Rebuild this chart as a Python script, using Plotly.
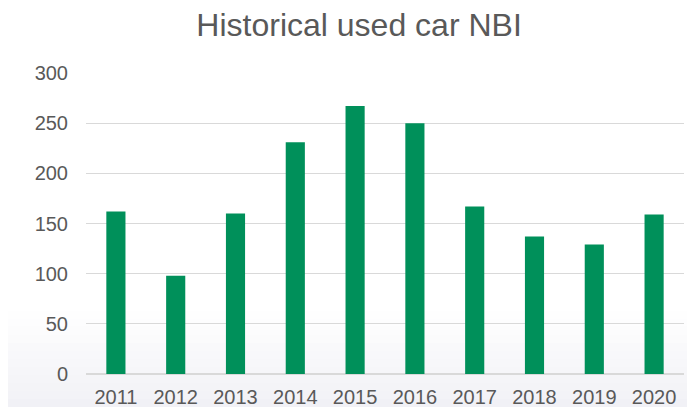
import plotly.graph_objs as go

years = ["2011", "2012", "2013", "2014", "2015", "2016", "2017", "2018", "2019", "2020"]
nbi = [162, 98, 160, 231, 267, 250, 167, 137, 129, 159]
y_ticks = [0, 50, 100, 150, 200, 250, 300]

bar_color = "#00905a"
text_color = "#595959"
grid_color = "#d9d9d9"

fig = go.Figure(go.Bar(
    x=years,
    y=nbi,
    marker=dict(color=bar_color, line=dict(width=0)),
))

# soft grey fade toward the bottom of the card
shapes = []
steps = 12
for i in range(steps):
    y0 = 0.32 * i / steps
    y1 = 0.32 * (i + 1) / steps
    shapes.append(dict(
        type="rect", xref="paper", yref="paper",
        x0=-0.2, x1=1.1, y0=y0 - 0.11, y1=y1 - 0.11,
        fillcolor="rgba(225,225,235,%.3f)" % (0.45 * (1 - i / steps)),
        line=dict(width=0), layer="below",
    ))

# the page body adds an 8px margin, so the figure is sized to fit the window
fig.update_layout(
    width=687,
    height=401,
    title=dict(
        text="Historical used car NBI",
        x=0.511, xanchor="center",
        y=0.957, yanchor="middle",
        font=dict(family="Liberation Sans, Arial", size=32, color=text_color),
    ),
    font=dict(family="Liberation Sans, Arial", size=20, color=text_color),
    paper_bgcolor="white",
    plot_bgcolor="rgba(0,0,0,0)",
    margin=dict(l=78, r=11, t=65, b=35, pad=0),
    bargap=0.68,
    showlegend=False,
    shapes=shapes,
    xaxis=dict(
        automargin=False,
        showgrid=False,
        showline=False,
        ticks="",
        ticklabelstandoff=9,
        tickfont=dict(size=20, color=text_color),
    ),
    yaxis=dict(
        automargin=False,
        range=[0, 300],
        tickvals=y_ticks,
        showgrid=True,
        gridcolor=grid_color,
        gridwidth=1,
        zeroline=True,
        zerolinecolor=grid_color,
        zerolinewidth=1.5,
        ticks="",
        ticklabelstandoff=17,
        tickfont=dict(size=20, color=text_color),
    ),
)

fig.write_html("out.html")
